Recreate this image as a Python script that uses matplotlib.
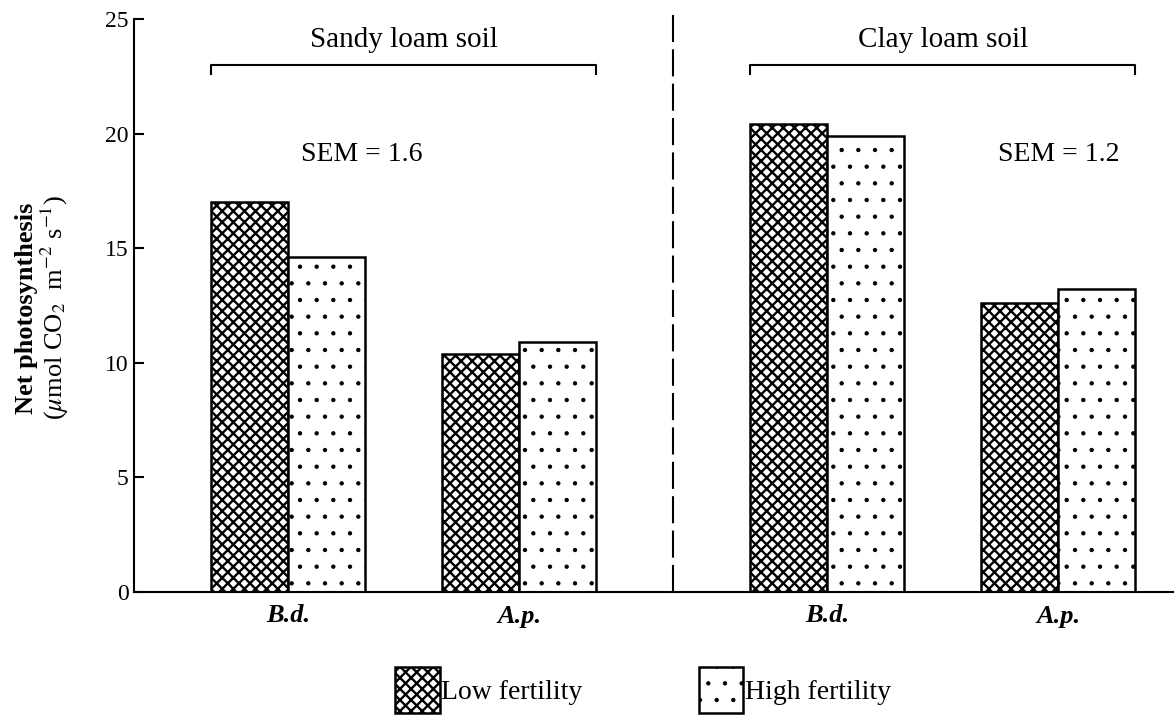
import numpy as np
import matplotlib
matplotlib.use("Agg")
import matplotlib.pyplot as plt

plt.rcParams['font.family'] = ['Liberation Serif', 'DejaVu Serif']
plt.rcParams['mathtext.fontset'] = 'stix'
plt.rcParams['hatch.color'] = 'black'

# net photosynthesis by species, fertility and soil type
species = ["B.d.", "A.p.", "B.d.", "A.p."]
soils = ["Sandy loam soil", "Clay loam soil"]
low_fert = [17.0, 10.4, 20.4, 12.6]
high_fert = [14.6, 10.9, 19.9, 13.2]
sem = [1.6, 1.2]

centers = np.array([2, 5, 9, 12])  # group centres, in bar widths
w = 1.0
LOW_HLW, HIGH_HLW = 1.7, 0.7

fig = plt.figure(figsize=(11.74, 7.17), dpi=100)
ax = fig.add_axes([134/1174, 125/717, 1 - 134/1174, (592 - 19)/717])

def set_hlw(patch, hlw):
    if hasattr(patch, 'set_hatch_linewidth'):
        patch.set_hatch_linewidth(hlw)

def hatched_bars(x, h, hatch, hlw):
    bars = ax.bar(x, h, width=w, color='white', edgecolor='black',
                  linewidth=1.8, hatch=hatch)
    for b in bars:
        set_hlw(b, hlw)
    return bars

b1 = hatched_bars(centers - w/2, low_fert, 'xxx', LOW_HLW)
b2 = hatched_bars(centers + w/2, high_fert, '.', HIGH_HLW)

ax.set_xlim(0, 13.5)
ax.set_ylim(0, 25)
ax.set_yticks([0, 5, 10, 15, 20, 25])
ax.tick_params(axis='y', direction='in', length=7, width=1.5, pad=4, labelsize=17)
ax.set_xticks(centers)
ax.set_xticklabels(species, fontsize=19, style='italic', fontweight='bold')
ax.tick_params(axis='x', length=0, pad=9)
for s in ['top', 'right']:
    ax.spines[s].set_visible(False)
ax.spines['left'].set_linewidth(1.5)
ax.spines['bottom'].set_linewidth(1.5)

# divider between soils
ax.plot([7, 7], [0, 25.5], color='black', lw=1.5, ls=(0, (13, 3.5)), clip_on=False)

# soil brackets, titles and SEM
for (x0, x1), soil, s, sx in zip([(1, 6), (8, 13)], soils, sem, [2.95, 12.0]):
    ax.plot([x0, x0, x1, x1], [22.6, 23, 23, 22.6], color='black', lw=1.5)
    ax.text((x0 + x1) / 2, 23.5, soil, ha='center', va='bottom', fontsize=21)
    ax.text(sx, 19.1, f"SEM = {s}", ha='center', va='center', fontsize=20)

fig.text(27/1174, 1 - 308/717, "Net photosynthesis", rotation=90, ha='center',
         va='center', fontsize=19, fontweight='bold')
fig.text(55/1174, 1 - 308/717, r"($\mu$mol CO$_2$  m$^{-2}$ s$^{-1}$)", rotation=90,
         ha='center', va='center', fontsize=19)

leg = fig.legend([b1[0], b2[0]], ["Low fertility", "High fertility"], loc='center',
                 bbox_to_anchor=(643/1174, 27/717), ncol=2, frameon=False, fontsize=20,
                 handlelength=1.6, handleheight=2.2, handletextpad=0.05, columnspacing=4.2)
for p, hlw in zip(leg.get_patches(), [LOW_HLW, HIGH_HLW]):
    set_hlw(p, hlw)

fig.savefig("out.png", dpi=100)
